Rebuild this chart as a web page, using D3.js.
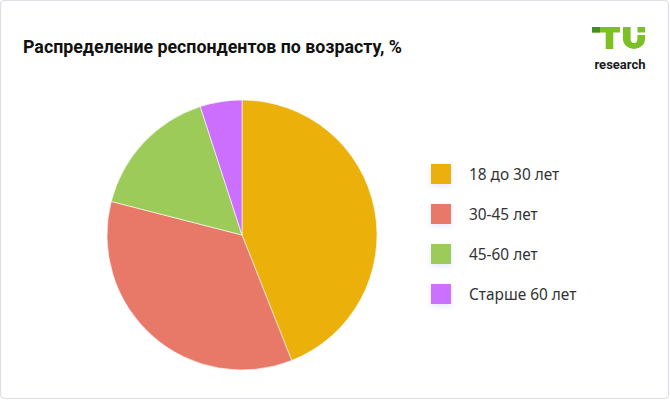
<!DOCTYPE html>
<html><head><meta charset="utf-8">
<script src="https://cdn.jsdelivr.net/npm/d3@7/dist/d3.min.js"></script>
<style>
html,body{margin:0;padding:0;background:#fff;}
svg{display:block;}
</style></head>
<body>
<svg id="chart" width="670" height="400"></svg>
<script>
const categories = ["18 до 30 лет", "30-45 лет", "45-60 лет", "Старше 60 лет"];
const values = [44, 35, 16, 5];
const colors = ["#EBB00A", "#E87868", "#9CCB5A", "#CC6FFF"];
const title = "Распределение респондентов по возрасту, %";

const svg = d3.select("#chart");
const defs = svg.append("defs");
const f = defs.append("filter").attr("id","sh").attr("x","-60%").attr("y","-60%").attr("width","220%").attr("height","220%");
f.append("feDropShadow").attr("dx",0).attr("dy",2).attr("stdDeviation",3).attr("flood-color","#5a6cff").attr("flood-opacity",0.18);

// card
svg.append("rect").attr("x",0.5).attr("y",0.5).attr("width",668).attr("height",398)
  .attr("rx",4).attr("fill","#fff").attr("stroke","#dcdfe5").attr("stroke-width",1.2);

// title
svg.append("text").attr("x",23).attr("y",53).text(title)
  .attr("font-family","Roboto, sans-serif").attr("font-weight","bold").attr("font-size",17.8).attr("fill","#111");

// logo
const logo = svg.append("g");
const g1 = "#7cc024", g2 = "#3f8f1f";
logo.append("rect").attr("x",592).attr("y",27).attr("width",28).attr("height",5.5).attr("fill",g1);
logo.append("rect").attr("x",592).attr("y",27).attr("width",8).attr("height",5.5).attr("fill",g2);
logo.append("rect").attr("x",605.7).attr("y",27).attr("width",7.6).attr("height",22).attr("fill",g1);
logo.append("path").attr("d","M623,27 h7.6 v12 a3.4,4 0 0 0 6.8,0 v-4 h7.6 v4 a11,10 0 0 1 -22,0 z").attr("fill",g1);
logo.append("rect").attr("x",637.4).attr("y",27).attr("width",7.6).attr("height",5.5).attr("fill",g1);
logo.append("text").attr("x",620).attr("y",69).attr("text-anchor","middle").text("research")
  .attr("font-family","Roboto, sans-serif").attr("font-weight","bold").attr("font-size",13).attr("fill","#1a1a1a");

// pie
const cx = 242, cy = 235, r = 135;
const pie = d3.pie().sort(null).value(d=>d).startAngle(0).endAngle(2*Math.PI);
const arc = d3.arc().innerRadius(0).outerRadius(r);
svg.append("g").attr("transform",`translate(${cx},${cy})`)
  .selectAll("path").data(pie(values)).join("path")
  .attr("d",arc).attr("fill",(d,i)=>colors[i]).attr("stroke","#fff").attr("stroke-width",0.6);

// legend
const y = d3.scalePoint().domain(categories).range([174, 294]);
const lg = svg.append("g").selectAll("g").data(categories).join("g")
  .attr("transform",d=>`translate(431,${y(d)})`);
lg.append("rect").attr("x",0).attr("y",-10).attr("width",20).attr("height",20)
  .attr("fill",(d,i)=>colors[i]).attr("filter","url(#sh)");
lg.append("text").attr("x",38).attr("y",5.5).text(d=>d)
  .attr("font-family","'Noto Sans', sans-serif").attr("font-size",15.4).attr("fill","#333");
</script>
</body></html>
